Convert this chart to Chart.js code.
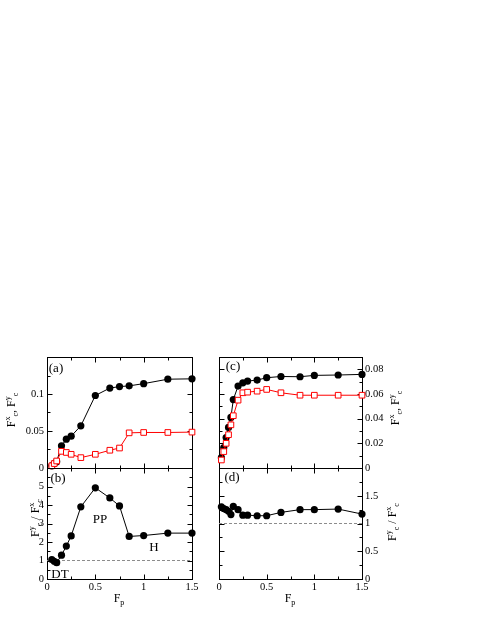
<!DOCTYPE html>
<html>
<head>
<meta charset="utf-8">
<script src="https://cdn.jsdelivr.net/npm/chart.js@4.4.0/dist/chart.umd.min.js"></script>
<style>
  html, body { margin: 0; padding: 0; background: #fff; }
  #wrap { position: relative; width: 485px; height: 627px; overflow: hidden;
          font-family: "Liberation Serif", "Times New Roman", serif; }
  canvas { position: absolute; }
  .lbl { position: absolute; transform: translate(-50%, -50%); white-space: nowrap;
         line-height: 1; color: #000; font-size: 13px; }
  .ttl { font-size: 12px; }
  .rot { transform: translate(-50%, -50%) rotate(-90deg); }
  sup, sub { font-size: 8px; line-height: 0; position: relative; vertical-align: baseline; }
  sup { top: -5px; }
  sub { top: 3px; }
</style>
</head>
<body>
<div id="wrap">
  <canvas id="cA" width="215" height="145" style="left:0;top:340px"></canvas>
  <canvas id="cB" width="215" height="160" style="left:0;top:450px"></canvas>
  <canvas id="cC" width="210" height="145" style="left:205px;top:340px"></canvas>
  <canvas id="cD" width="210" height="160" style="left:205px;top:450px"></canvas>

  <div class="lbl" style="left:56px;top:367px">(a)</div>
  <div class="lbl" style="left:58px;top:477px">(b)</div>
  <div class="lbl" style="left:233px;top:365px">(c)</div>
  <div class="lbl" style="left:232px;top:476px">(d)</div>
  <div class="lbl" style="left:100px;top:518px">PP</div>
  <div class="lbl" style="left:154px;top:546px">H</div>
  <div class="lbl" style="left:60px;top:573px">DT</div>

  <div class="lbl ttl rot" style="left:11px;top:410px">F<sup>x</sup><sub>c</sub>, F<sup>y</sup><sub>c</sub></div>
  <div class="lbl ttl rot" style="left:35px;top:518px">F<sup>y</sup><sub>c</sub> / F<sup>x</sup><sub>c</sub></div>
  <div class="lbl ttl rot" style="left:395px;top:408px">F<sup>x</sup><sub>c</sub>, F<sup>y</sup><sub>c</sub></div>
  <div class="lbl ttl rot" style="left:392px;top:522px">F<sup>y</sup><sub>c</sub> / F<sup>x</sup><sub>c</sub></div>
  <div class="lbl ttl" style="left:119px;top:598px">F<sub>p</sub></div>
  <div class="lbl ttl" style="left:290px;top:598px">F<sub>p</sub></div>
</div>

<script>
// left column: pinning strength values
const fpL = [0.05, 0.075, 0.1, 0.15, 0.2, 0.25, 0.35, 0.5, 0.65, 0.75, 0.85, 1.0, 1.25, 1.5];
const fyL = [0.003, 0.006, 0.0085, 0.030, 0.039, 0.043, 0.057, 0.098, 0.108, 0.110, 0.111, 0.114, 0.120, 0.1205];
const fxL = [0.003, 0.006, 0.0095, 0.0225, 0.021, 0.0185, 0.014, 0.0185, 0.024, 0.027, 0.0475, 0.048, 0.048, 0.0485];
const ratioL = [1.05, 0.96, 0.88, 1.29, 1.78, 2.33, 3.9, 4.93, 4.38, 3.95, 2.3, 2.35, 2.48, 2.48];

// right column
const fpR = [0.025, 0.05, 0.075, 0.1, 0.125, 0.15, 0.2, 0.25, 0.3, 0.4, 0.5, 0.65, 0.85, 1.0, 1.25, 1.5];
const fyR = [0.0084, 0.0166, 0.0247, 0.0329, 0.041, 0.0555, 0.0664, 0.0691, 0.0705, 0.0713, 0.0732, 0.0742, 0.074, 0.0751, 0.0754, 0.0759];
const fxR = [0.0065, 0.0133, 0.020, 0.027, 0.035, 0.0424, 0.055, 0.061, 0.0615, 0.0623, 0.0637, 0.061, 0.059, 0.059, 0.059, 0.059];
const ratioR = [1.30, 1.27, 1.25, 1.22, 1.16, 1.31, 1.25, 1.15, 1.15, 1.14, 1.14, 1.2, 1.25, 1.25, 1.26, 1.17];

// dashed reference level in the ratio panels
const refX = [0, 1.5];
const refY = [1, 1];

const xTicks = ['0', '0.5', '1', '1.5'];
const yTicksA = ['0', '0.05', '0.1'];
const yTicksB = ['0', '1', '2', '3', '4', '5'];
const yTicksC = ['0', '0.02', '0.04', '0.06', '0.08'];
const yTicksD = ['0', '0.5', '1', '1.5'];

const pts = (xs, ys) => xs.map((x, i) => ({ x: x, y: ys[i] }));
const tickFont = { family: "Liberation Serif", size: 10.5 };

// frame with inward major/minor ticks on all four sides
const frame = {
  id: 'frame',
  beforeDatasetsDraw(chart, args, o) {
    const ctx = chart.ctx;
    const a = chart.chartArea;
    const x = chart.scales.x, y = chart.scales.y;
    const L = Math.round(a.left) + 0.5, R = Math.round(a.right) + 0.5;
    const T = Math.round(a.top) + 0.5, B = Math.round(a.bottom) + 0.5;
    ctx.save();
    ctx.strokeStyle = '#000';
    ctx.lineWidth = 1;
    ctx.strokeRect(L, T, R - L, B - T);
    ctx.beginPath();
    for (let v = x.min; v <= x.max + 1e-9; v += o.xMinor) {
      const major = Math.abs(v / o.xMajor - Math.round(v / o.xMajor)) < 1e-6;
      const len = major ? 5 : 3;
      const px = Math.round(x.getPixelForValue(v)) + 0.5;
      ctx.moveTo(px, B); ctx.lineTo(px, B - len);
      ctx.moveTo(px, T); ctx.lineTo(px, T + len);
    }
    for (let v = y.min; v <= y.max + 1e-9; v += o.yMinor) {
      const major = Math.abs(v / o.yMajor - Math.round(v / o.yMajor)) < 1e-6;
      const len = major ? 5 : 3;
      const py = Math.round(y.getPixelForValue(v)) + 0.5;
      ctx.moveTo(L, py); ctx.lineTo(L + len, py);
      ctx.moveTo(R, py); ctx.lineTo(R - len, py);
    }
    ctx.stroke();
    ctx.restore();
  }
};

function redSet(data) {
  return { data: data, showLine: true, borderColor: '#ff0000', borderWidth: 1,
           pointStyle: 'rect', pointRadius: 4, pointBorderColor: '#ff0000',
           pointBackgroundColor: '#ffffff', pointBorderWidth: 1, clip: false };
}
function blackSet(data) {
  return { data: data, showLine: true, borderColor: '#000', borderWidth: 1,
           pointStyle: 'circle', pointRadius: 3.6, pointBorderColor: '#000',
           pointBackgroundColor: '#000', pointBorderWidth: 0, clip: false };
}
function refSet() {
  return { data: pts(refX, refY), showLine: true, borderColor: '#8c8c8c', borderWidth: 1,
           borderDash: [3, 2], pointRadius: 0, clip: false };
}

function panel(id, datasets, p) {
  new Chart(document.getElementById(id), {
    type: 'scatter',
    data: { datasets: datasets },
    options: {
      responsive: false,
      animation: false,
      events: [],
      layout: { padding: p.pad },
      plugins: {
        legend: { display: false },
        tooltip: { enabled: false },
        frame: { xMajor: 0.5, xMinor: 0.25, yMajor: p.yMajor, yMinor: p.yMinor }
      },
      scales: {
        x: {
          type: 'linear', min: 0, max: 1.5,
          grid: { display: false, drawTicks: false },
          border: { display: false },
          ticks: { display: p.showX, stepSize: 0.5, autoSkip: false, maxRotation: 0,
                   padding: 2, color: '#000', font: tickFont,
                   callback: (v, i) => xTicks[i] ?? '' },
          afterFit: s => { s.height = p.xh; }
        },
        y: {
          type: 'linear', position: p.side, min: 0, max: p.yMax,
          grid: { display: false, drawTicks: false },
          border: { display: false },
          ticks: { stepSize: p.yMajor, autoSkip: false, padding: 3, color: '#000', font: tickFont,
                   callback: (v, i) => p.labels[i] ?? '' },
          afterFit: s => { s.width = p.yw; }
        }
      }
    },
    plugins: [frame]
  });
}

panel('cA', [redSet(pts(fpL, fxL)), blackSet(pts(fpL, fyL))],
  { pad: { left: 0, right: 23, top: 17, bottom: 0 }, xh: 17, yw: 47, side: 'left', showX: false,
    yMax: 0.15, yMajor: 0.05, yMinor: 0.025, labels: yTicksA });
panel('cB', [blackSet(pts(fpL, ratioL)), refSet()],
  { pad: { left: 0, right: 23, top: 18, bottom: 0 }, xh: 31, yw: 47, side: 'left', showX: true,
    yMax: 6, yMajor: 1, yMinor: 0.5, labels: yTicksB });
panel('cC', [redSet(pts(fpR, fxR)), blackSet(pts(fpR, fyR))],
  { pad: { left: 14, right: 0, top: 17, bottom: 0 }, xh: 17, yw: 53, side: 'right', showX: false,
    yMax: 0.09, yMajor: 0.02, yMinor: 0.01, labels: yTicksC });
panel('cD', [blackSet(pts(fpR, ratioR)), refSet()],
  { pad: { left: 14, right: 0, top: 18, bottom: 0 }, xh: 31, yw: 53, side: 'right', showX: true,
    yMax: 2, yMajor: 0.5, yMinor: 0.25, labels: yTicksD });
</script>
</body>
</html>
